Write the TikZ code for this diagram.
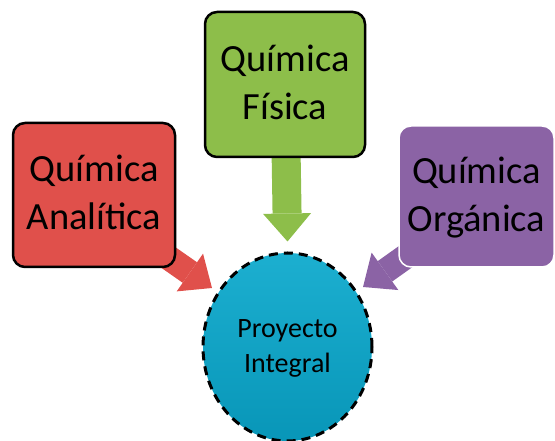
\documentclass[tikz,border=0pt]{standalone}
\usepackage{fontspec}
\setmainfont{Carlito}
\usepackage{tikz}
\usetikzlibrary{positioning}
\usetikzlibrary{arrows.meta,shapes}
\usetikzlibrary{calc,backgrounds}

\definecolor{qred}{RGB}{224,80,75}
\definecolor{qgreen}{RGB}{141,190,74}
\definecolor{qpurple}{RGB}{139,99,165}
\definecolor{qcyantop}{RGB}{28,175,208}
\definecolor{qcyanbot}{RGB}{8,150,184}

\begin{document}
\begin{tikzpicture}[x=1pt, y=1pt,
   caja/.style={draw=black, line width=2.5pt, rounded corners=12pt, inner sep=0pt,
      align=center, font=\fontsize{38.5}{48}\selectfont},
   flecha/.style={line width=25pt, -{Triangle[length=27pt,width=46pt,line width=0pt]}}]

  \def\tope{\rule{0pt}{30pt}};
  \def\fondo{\rule[-8pt]{0pt}{8pt}};

  \useasboundingbox (0,0) rectangle (555,441);

  %cajas
  \node[caja, fill=qred, minimum width=162pt, minimum height=144pt] (ana) at (94,246) {\tope Química\\Analítica\fondo};
  \node[caja, fill=qgreen, minimum width=160pt, minimum height=145pt] (fis) at (285,356.5) {\tope Química\\Física\fondo};
  \node[caja, fill=qpurple, draw=white, line width=1.5pt, minimum width=155pt, minimum height=141pt] (org) at (476.5,244.5) {\tope Química\\Orgánica\fondo};

  %proyecto
  \node[ellipse, draw=black, line width=3pt, dash pattern=on 9pt off 6pt,
        top color=qcyantop, bottom color=qcyanbot, inner sep=0pt,
        minimum width=169pt, minimum height=188pt, align=center,
        font=\fontsize{28}{35}\selectfont] (proy) at (287.5,94)
        {\rule{0pt}{23pt}Proyecto\\Integral\rule[-6pt]{0pt}{6pt}};

  %flechas
  \begin{scope}[on background layer]
    \draw[flecha, qred] ($(ana.south east)+(-24,22)$) -- ($(proy.center)+(-75.5,59)$);
    \draw[flecha, qgreen, line width=29pt, -{Triangle[length=28pt,width=48pt,line width=0pt]}] (fis.center) -- ($(proy.north)+(0,10)$);
    \draw[flecha, qpurple] ($(org.south west)+(24,23)$) -- ($(proy.center)+(75.5,60)$);
  \end{scope}

\end{tikzpicture}
\end{document}
